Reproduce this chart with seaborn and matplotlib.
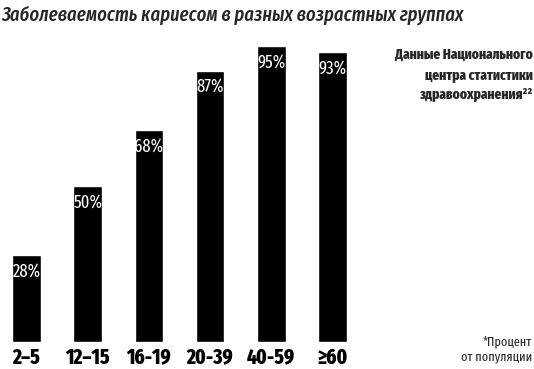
import matplotlib
matplotlib.use("Agg")
import matplotlib.pyplot as plt
import seaborn as sns
import pandas as pd

# age groups and share of population with caries (%)
age_groups = ["2–5", "12–15", "16-19", "20-39", "40-59", "≥60"]
caries_pct = [28, 50, 68, 87, 95, 93]

title = "Заболеваемость кариесом в разных возрастных группах"
source = "Данные Национального\nцентра статистики\nздравоохранения²²"
footnote = "*Процент\nот популяции"

sns.set_style("white")
narrow = ["Fira Sans Extra Condensed", "Fira Sans Condensed", "DejaVu Sans"]
plt.rcParams["font.family"] = narrow

df = pd.DataFrame({"group": age_groups, "pct": caries_pct})

fig = plt.figure(figsize=(5.34, 3.69), dpi=100)
ax = fig.add_axes([0.0, 27 / 369, 350 / 534, 312 / 369])

sns.barplot(data=df, x="group", y="pct", color="black", saturation=1,
            width=0.47, ax=ax)

for i, v in enumerate(caries_pct):
    ax.text(i, v - 2.4, f"{v}%", ha="center", va="top", color="white",
            fontsize=13, family=narrow)

ax.set_xlim(-0.433, 5.286)
ax.set_ylim(0, 100)
ax.set_xlabel("")
ax.set_ylabel("")
ax.set_yticks([])
ax.tick_params(axis="x", length=0, pad=3.5)
for lbl in ax.get_xticklabels():
    lbl.set_fontsize(15)
    lbl.set_fontweight("heavy")
    lbl.set_color("black")
sns.despine(ax=ax, left=True, bottom=True)

fig.text(0.003, 0.985, title, ha="left", va="top", fontsize=14.5,
         style="italic", fontweight="medium", family=narrow)
fig.text(0.997, 0.87, source, ha="right", va="top", fontsize=10.5,
         fontweight="heavy", linespacing=1.5, family=narrow)
fig.text(0.997, 0.015, footnote, ha="right", va="bottom", fontsize=9.5,
         linespacing=1.3, family=narrow)

fig.savefig("out.png", dpi=100)
